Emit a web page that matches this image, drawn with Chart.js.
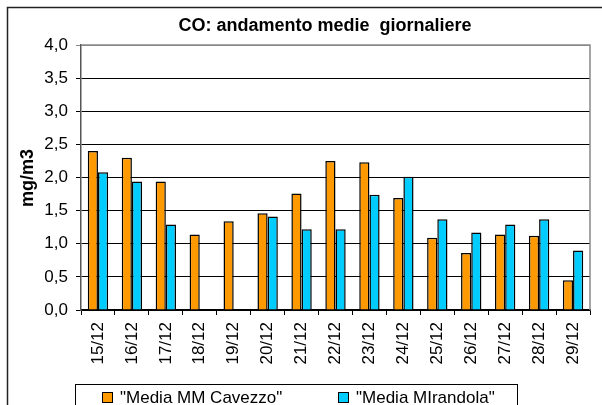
<!DOCTYPE html>
<html lang="it">
<head>
    <meta charset="UTF-8">
    <title>CO: andamento medie giornaliere</title>
    <style>
        body {
            margin: 0;
            padding: 0;
            background-color: #fff;
        }
        #wrap {
            width: 602px;
            height: 405px;
        }
    </style>
    <script src="https://cdn.jsdelivr.net/npm/chart.js"></script>
</head>
<body>
    <div id="wrap"><canvas id="coChart" width="602" height="405"></canvas></div>

    <script>
        const days = ['15/12', '16/12', '17/12', '18/12', '19/12', '20/12', '21/12', '22/12',
                      '23/12', '24/12', '25/12', '26/12', '27/12', '28/12', '29/12'];
        const cavezzo = [2.40, 2.30, 1.94, 1.14, 1.34, 1.46, 1.76, 2.25, 2.23, 1.69, 1.09, 0.86, 1.14, 1.12, 0.45];
        const mirandola = [2.08, 1.94, 1.29, null, null, 1.41, 1.22, 1.22, 1.74, 2.01, 1.37, 1.17, 1.29, 1.37, 0.90];
        const seriesNames = ['"Media MM Cavezzo"', '"Media MIrandola"'];
        const chartTitle = 'CO: andamento medie  giornaliere';
        const yTitle = 'mg/m3';

        const FONT = 'Arial, "Liberation Sans", sans-serif';

        // frame, title, axis title, plot border and the boxed legend
        const decorations = {
            id: 'decorations',
            beforeDraw(chart) {
                const c = chart.ctx;
                c.save();
                c.fillStyle = '#fff';
                c.fillRect(0, 0, chart.width, chart.height);
                c.strokeStyle = '#222';
                c.lineWidth = 1.5;
                c.beginPath();
                c.moveTo(7.5, chart.height);
                c.lineTo(7.5, 7.5);
                c.lineTo(chart.width, 7.5);
                c.stroke();
                c.restore();
            },
            afterDraw(chart) {
                const c = chart.ctx;
                const a = chart.chartArea;
                c.save();

                // gray plot border top / right
                c.strokeStyle = '#888';
                c.lineWidth = 1.5;
                c.beginPath();
                c.moveTo(a.left, a.top);
                c.lineTo(a.right, a.top);
                c.lineTo(a.right, a.bottom);
                c.stroke();

                c.fillStyle = '#000';
                c.font = 'bold 18px ' + FONT;
                c.textAlign = 'center';
                c.textBaseline = 'alphabetic';
                c.fillText(chartTitle, 325, 31);

                c.translate(33, 178);
                c.rotate(-Math.PI / 2);
                c.fillText(yTitle, 0, 0);
                c.setTransform(1, 0, 0, 1, 0, 0);

                // legend
                c.strokeStyle = '#000';
                c.lineWidth = 1;
                c.strokeRect(75.5, 384.5, 442, 40);
                const items = chart.data.datasets;
                const xs = [102, 338];
                c.font = '17px ' + FONT;
                c.textAlign = 'left';
                items.forEach((ds, i) => {
                    c.fillStyle = ds.backgroundColor;
                    c.fillRect(xs[i] + 0.5, 392.5, 10, 10);
                    c.strokeRect(xs[i] + 0.5, 392.5, 10, 10);
                    c.fillStyle = '#000';
                    c.fillText(ds.label, xs[i] + 18, 403);
                });
                c.restore();
            }
        };

        const ctx = document.getElementById('coChart').getContext('2d');
        const coChart = new Chart(ctx, {
            type: 'bar',
            data: {
                labels: days,
                datasets: [{
                    label: seriesNames[0],
                    data: cavezzo,
                    backgroundColor: '#FF9900',
                    borderColor: '#000',
                    borderWidth: 1.5,
                    barPercentage: 1.0,
                    categoryPercentage: 0.6
                }, {
                    label: seriesNames[1],
                    data: mirandola,
                    backgroundColor: '#00CCFF',
                    borderColor: '#000',
                    borderWidth: 1.5,
                    barPercentage: 1.0,
                    categoryPercentage: 0.6
                }]
            },
            options: {
                responsive: false,
                animation: false,
                layout: {
                    padding: { left: 0, right: 12, top: 45, bottom: 0 }
                },
                plugins: {
                    legend: { display: false },
                    title: { display: false },
                    tooltip: { enabled: false }
                },
                scales: {
                    x: {
                        afterFit: (scale) => { scale.height = 95; },
                        grid: {
                            offset: true,
                            drawOnChartArea: false,
                            drawTicks: true,
                            tickLength: 5,
                            color: '#000'
                        },
                        border: { color: '#000', width: 1.5 },
                        ticks: {
                            minRotation: 90,
                            maxRotation: 90,
                            autoSkip: false,
                            padding: 7,
                            color: '#000',
                            font: { family: FONT, size: 17 }
                        }
                    },
                    y: {
                        min: 0,
                        max: 4,
                        afterFit: (scale) => { scale.width = 81; },
                        grid: {
                            color: (c) => (c.tick && c.tick.value === 4 ? '#888' : '#000'),
                            tickLength: 5,
                            lineWidth: 1
                        },
                        border: { color: '#555', width: 1.5 },
                        ticks: {
                            stepSize: 0.5,
                            padding: 8,
                            color: '#000',
                            font: { family: FONT, size: 17 },
                            callback: (v) => v.toFixed(1).replace('.', ',')
                        }
                    }
                }
            },
            plugins: [decorations]
        });
    </script>
</body>
</html>
